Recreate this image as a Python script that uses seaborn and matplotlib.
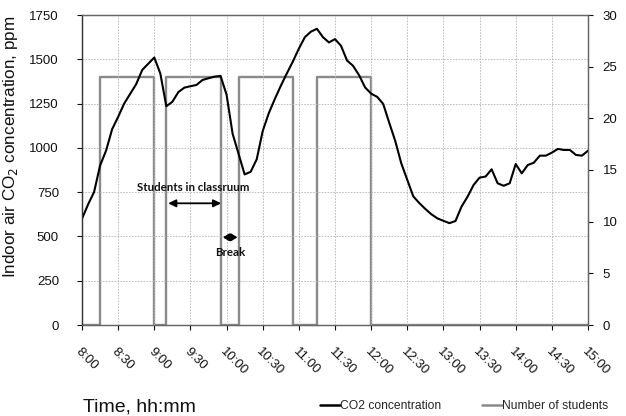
import matplotlib
matplotlib.use("Agg")
import matplotlib.pyplot as plt
from matplotlib.lines import Line2D
import seaborn as sns
import pandas as pd

# ---- data ----
minutes = list(range(0, 425, 5))  # minutes after 8:00
co2 = [600, 680, 750, 900, 985, 1105, 1175, 1250, 1305, 1360,
       1440, 1475, 1510, 1420, 1235, 1260, 1315, 1340, 1348, 1355,
       1383, 1393, 1402, 1406, 1300, 1080, 965, 850, 865, 935,
       1095, 1195, 1275, 1350, 1420, 1487, 1560, 1625, 1656, 1672,
       1625, 1595, 1614, 1576, 1493, 1463, 1410, 1341, 1306, 1288,
       1248, 1142, 1039, 913, 819, 726, 688, 655, 625, 602,
       588, 575, 587, 668, 724, 790, 832, 838, 879, 800,
       786, 800, 909, 856, 903, 916, 956, 956, 973, 994,
       988, 988, 960, 956, 984]
student_minutes = [0, 15, 60, 70, 115, 130, 175, 195, 240, 420]
students = [0, 24, 0, 24, 0, 24, 0, 24, 0, 0]
tick_minutes = list(range(0, 421, 30))
tick_labels = ["8:00", "8:30", "9:00", "9:30", "10:00", "10:30", "11:00", "11:30",
               "12:00", "12:30", "13:00", "13:30", "14:00", "14:30", "15:00"]

co2_df = pd.DataFrame({"minute": minutes, "co2": co2})
st_df = pd.DataFrame({"minute": student_minutes, "students": students})

sns.set_style("ticks")
plt.rcParams['font.family'] = ['Liberation Sans', 'DejaVu Sans']

fig = plt.figure(figsize=(6.26, 4.16), dpi=100)
ax = fig.add_axes([82/626, 1-325/416, 506/626, 310/416])
ax2 = ax.twinx()

sns.lineplot(data=st_df, x="minute", y="students", ax=ax2, color="#8a8a8a",
             lw=1.7, drawstyle="steps-post", estimator=None, sort=False)
sns.lineplot(data=co2_df, x="minute", y="co2", ax=ax, color="black",
             lw=1.5, estimator=None)

ax.set_zorder(ax2.get_zorder() + 1)
ax.patch.set_visible(False)

ax.set_xlim(0, 420)
ax.set_ylim(0, 1750)
ax2.set_ylim(0, 30)
ax.set_yticks(range(0, 1751, 250))
ax2.set_yticks(range(0, 31, 5))
ax.set_xticks(tick_minutes)
ax.set_xticklabels(tick_labels, rotation=-45, ha="left", va="top",
                   rotation_mode="anchor")
ax.set_xlabel("")
ax.set_ylabel("")
ax2.set_ylabel("")

ax.grid(True, color="#b5b5b5", linestyle=(0, (2, 1.5)), lw=0.6)
ax.tick_params(axis="y", direction="out", length=3.6, width=0.8, pad=13,
               labelsize=9.5, colors="#111111")
ax.tick_params(axis="x", direction="out", length=3.6, width=0.8, pad=11,
               labelsize=9.5, colors="#111111")
ax2.tick_params(axis="y", direction="out", length=3.6, width=0.8, pad=7,
                labelsize=9.5, colors="#111111")

for a in (ax, ax2):
    for s in a.spines.values():
        s.set_visible(True)
        s.set_color("#666666")
        s.set_linewidth(0.9)
ax.spines["left"].set_color("#333333")

# annotations
ann_font = dict(family=["Lato", "DejaVu Sans"], fontweight="bold", fontsize=8.3,
                color="#111111")
ax.text(92, 779, "Students in classruum", ha="center", va="center", **ann_font)
ax.annotate("", xy=(71.5, 687), xytext=(115.5, 687),
            arrowprops=dict(arrowstyle="<|-|>,head_length=0.45,head_width=0.22",
                            color="black", lw=1.3, shrinkA=0, shrinkB=0))
ax.annotate("", xy=(117, 495), xytext=(129, 495),
            arrowprops=dict(arrowstyle="<|-|>,head_length=0.35,head_width=0.22",
                            color="black", lw=1.3, shrinkA=0, shrinkB=0))
ax.text(123, 412, "Break", ha="center", va="center", **ann_font)

# labels
fig.text(10.5/626, 1-147/416, "Indoor air CO$_2$ concentration, ppm",
         rotation=90, ha="center", va="center", fontsize=12.3, color="#111111")
fig.text(83/626, 1-412/416, "Time, hh:mm", ha="left", va="baseline",
         fontsize=14, color="#111111")

handles = [Line2D([], [], color="black", lw=1.8),
           Line2D([], [], color="#8a8a8a", lw=1.8)]
fig.legend(handles, ["CO2 concentration", "Number of students"],
           loc="center left", bbox_to_anchor=(320/626, 1-406/416), ncol=2,
           frameon=False, fontsize=8.7, handlelength=1.65, handletextpad=0.0,
           columnspacing=3.4, borderpad=0, borderaxespad=0)

fig.savefig("out.png", dpi=100)
